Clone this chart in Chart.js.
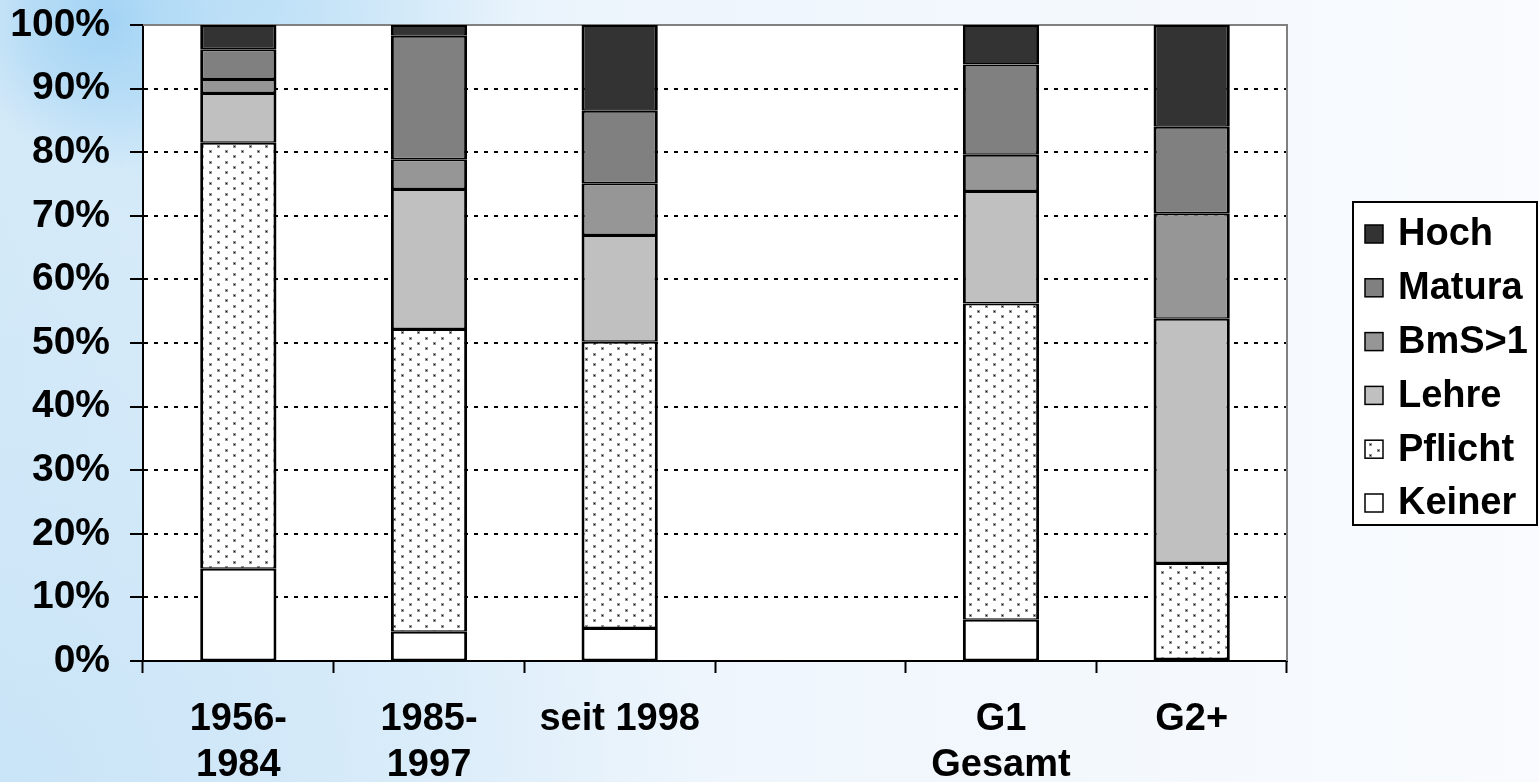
<!DOCTYPE html>
<html>
<head>
<meta charset="utf-8">
<title>Bildungsabschluss nach Zeitraum</title>
<script src="https://cdn.jsdelivr.net/npm/chart.js@4/dist/chart.umd.min.js"></script>
<style>
  html, body { margin: 0; padding: 0; background: #ffffff; }
  #c { display: block; }
</style>
</head>
<body>
<canvas id="c" width="1539" height="782"></canvas>
<script>
// Categories (multi-line labels as arrays; the empty slot is a spacer column)
const categories = [['1956-', '1984'], ['1985-', '1997'], 'seit 1998', '', ['G1', 'Gesamt'], 'G2+'];

// Shares in percent per education level (stacked to 100 %)
const keiner  = [14.5,  4.6,  5.2, null,  6.5,  0.3];
const pflicht = [67.0, 47.6, 45.0, null, 49.7, 15.1];
const lehre   = [ 7.8, 22.0, 16.8, null, 17.7, 38.4];
const bms     = [ 2.2,  4.7,  8.1, null,  5.7, 16.6];
const matura  = [ 4.7, 19.4, 11.4, null, 14.2, 13.6];
const hoch    = [ 3.8,  1.7, 13.5, null,  6.2, 16.0];

const yTickLabels = ['0%', '10%', '20%', '30%', '40%', '50%', '60%', '70%', '80%', '90%', '100%'];

// Dotted fill for "Pflicht": staggered rows of small dark dots
function makeDotPattern() {
  const tile = document.createElement('canvas');
  tile.width = 16; tile.height = 32;
  const t = tile.getContext('2d');
  t.fillStyle = '#ffffff';
  t.fillRect(0, 0, 16, 32);
  const dots = [[2, 2], [10, 7], [2, 12], [10, 18], [2, 23], [10, 28]];
  dots.forEach(([x, y]) => {
    t.fillStyle = 'rgba(60,60,60,0.55)';
    t.fillRect(x - 1, y - 1, 3, 3);
    t.fillStyle = '#111111';
    t.fillRect(x, y, 1, 1);
  });
  return t.createPattern(tile, 'repeat');
}
const dotPattern = makeDotPattern();

const FONT = 'Arial, "Liberation Sans", Helvetica, sans-serif';
Chart.defaults.font.family = FONT;
Chart.defaults.font.weight = 'bold';
Chart.defaults.font.size = 38;
Chart.defaults.color = '#000000';

// Soft blue backdrop with a white plot area
const backdrop = {
  id: 'backdrop',
  beforeDraw(chart) {
    const { ctx, width, height, chartArea: a } = chart;
    ctx.save();
    const g = ctx.createLinearGradient(0, 0, width, 0);
    g.addColorStop(0, '#d5eaf8');
    g.addColorStop(0.09, '#d9ecf9');
    g.addColorStop(0.4, '#edf5fc');
    g.addColorStop(1, '#f9fbfe');
    ctx.fillStyle = g;
    ctx.fillRect(0, 0, width, height);

    // bright vertical sweep near the top-left
    const r1 = ctx.createRadialGradient(110, 20, 0, 110, 20, 150);
    r1.addColorStop(0, 'rgba(150,205,244,0.95)');
    r1.addColorStop(0.55, 'rgba(160,210,244,0.55)');
    r1.addColorStop(1, 'rgba(160,210,244,0)');
    ctx.fillStyle = r1;
    ctx.fillRect(0, 0, width, height);

    // light band above the plot
    const r3 = ctx.createRadialGradient(260, 0, 0, 260, 0, 260);
    r3.addColorStop(0, 'rgba(180,220,246,0.8)');
    r3.addColorStop(1, 'rgba(180,220,246,0)');
    ctx.fillStyle = r3;
    ctx.fillRect(0, 0, width, height);

    const r2 = ctx.createRadialGradient(0, height, 0, 0, height, 720);
    r2.addColorStop(0, 'rgba(200,228,247,0.9)');
    r2.addColorStop(0.55, 'rgba(205,230,248,0.5)');
    r2.addColorStop(1, 'rgba(205,230,248,0)');
    ctx.fillStyle = r2;
    ctx.fillRect(0, 0, width, height);

    ctx.fillStyle = '#ffffff';
    ctx.fillRect(a.left, a.top, a.right - a.left, a.bottom - a.top);
    ctx.restore();
  },
  beforeDatasetsDraw(chart) {
    const { ctx, chartArea: a } = chart;
    ctx.save();
    ctx.strokeStyle = '#808080';
    ctx.lineWidth = 2;
    ctx.beginPath();
    ctx.moveTo(a.left, a.top);
    ctx.lineTo(a.right, a.top);
    ctx.lineTo(a.right, a.bottom);
    ctx.stroke();
    ctx.restore();
  }
};

// Framed legend on the right, listing series top-down (last dataset first)
const boxLegend = {
  id: 'boxLegend',
  afterDraw(chart, args, o) {
    const { ctx, chartArea: a } = chart;
    const left = a.right + o.gap;
    const top = o.top;
    ctx.save();
    ctx.fillStyle = '#ffffff';
    ctx.fillRect(left, top, o.width, o.height);
    ctx.strokeStyle = '#000000';
    ctx.lineWidth = 2;
    ctx.strokeRect(left, top, o.width, o.height);
    ctx.font = 'bold ' + o.fontSize + 'px ' + FONT;
    ctx.textBaseline = 'middle';
    ctx.textAlign = 'left';
    const ds = chart.data.datasets.slice().reverse();
    ds.forEach((d, i) => {
      const cy = top + o.firstRow + i * o.rowStep;
      const sx = left + o.swatchX;
      ctx.fillStyle = d.backgroundColor;
      ctx.fillRect(sx, cy - o.swatch / 2, o.swatch, o.swatch);
      ctx.lineWidth = 1.5;
      ctx.strokeStyle = '#000000';
      ctx.strokeRect(sx, cy - o.swatch / 2, o.swatch, o.swatch);
      ctx.fillStyle = '#000000';
      ctx.fillText(d.label, left + o.textX, cy + 1);
    });
    ctx.restore();
  }
};

const barBorder = { top: 2, bottom: 1.5, left: 3, right: 3 };
function series(label, data, fill) {
  return {
    label, data,
    backgroundColor: fill,
    borderColor: '#000000',
    borderWidth: barBorder,
    borderSkipped: false,
    barPercentage: 0.4,
    categoryPercentage: 1.0
  };
}

new Chart(document.getElementById('c'), {
  type: 'bar',
  data: {
    labels: categories,
    datasets: [
      series('Keiner', keiner, '#ffffff'),
      series('Pflicht', pflicht, dotPattern),
      series('Lehre', lehre, '#c0c0c0'),
      series('BmS>1', bms, '#969696'),
      series('Matura', matura, '#808080'),
      series('Hoch', hoch, '#333333')
    ]
  },
  options: {
    responsive: false,
    animation: false,
    devicePixelRatio: 1,
    layout: { padding: { left: 0, top: 25, right: 252, bottom: 0 } },
    plugins: {
      legend: { display: false },
      tooltip: { enabled: false },
      boxLegend: {
        gap: 66, top: 202, width: 184, height: 323,
        firstRow: 32, rowStep: 53.8,
        swatchX: 12, swatch: 18, textX: 45, fontSize: 38
      }
    },
    scales: {
      x: {
        stacked: true,
        offset: true,
        afterFit(scale) { scale.height = 121; },
        grid: {
          offset: true,
          drawOnChartArea: false,
          drawTicks: true,
          tickLength: 12,
          tickWidth: 2,
          tickColor: '#000000',
          color: '#000000'
        },
        border: { display: true, color: '#000000', width: 2 },
        ticks: {
          autoSkip: false,
          maxRotation: 0,
          minRotation: 0,
          padding: 24,
          color: '#000000',
          font: { size: 38, weight: 'bold', lineHeight: 1.2 }
        }
      },
      y: {
        stacked: true,
        min: 0,
        max: 100,
        afterFit(scale) {
          scale.width = 143;
          scale.paddingTop = 0;
          scale.paddingBottom = 0;
        },
        grid: {
          color: (c) => (c.tick && (c.tick.value === 0 || c.tick.value === 100)) ? 'rgba(0,0,0,0)' : '#000000',
          lineWidth: 2,
          drawTicks: true,
          tickLength: 13,
          tickWidth: 2,
          tickColor: '#000000'
        },
        border: { display: true, color: '#000000', width: 2, dash: [4, 6] },
        ticks: {
          stepSize: 10,
          padding: 20,
          color: '#000000',
          font: { size: 39, weight: 'bold' },
          callback: (v) => yTickLabels[Math.round(v / 10)]
        }
      }
    }
  },
  plugins: [backdrop, boxLegend]
});
</script>
</body>
</html>
